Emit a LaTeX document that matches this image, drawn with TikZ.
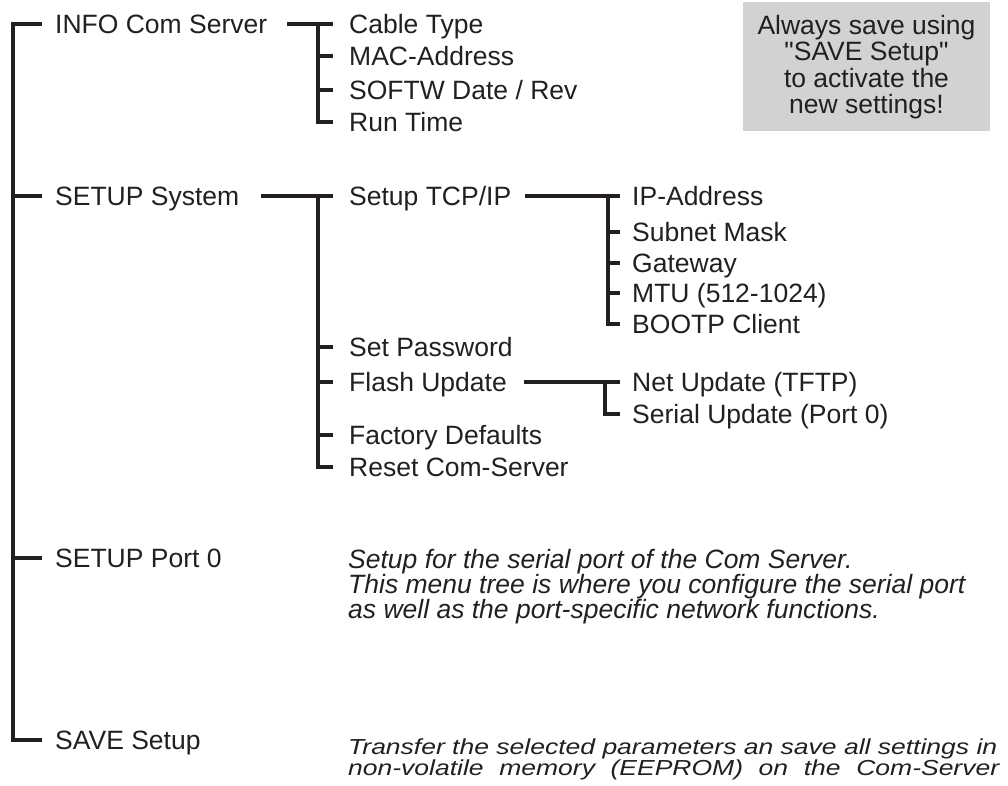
\documentclass[tikz,border=0pt]{standalone}
\usepackage{fontspec}
\setmainfont{Liberation Sans}[Ligatures=TeXOff]
\usepackage{graphicx}
\definecolor{ink}{HTML}{231F20}
\definecolor{notegray}{HTML}{D1D2D4}
\begin{document}
\begin{tikzpicture}[x=1pt,y=-1pt,
  lbl/.style={anchor=west, inner sep=0pt, text height=19pt, text depth=0pt, text=ink, font=\fontsize{26.5pt}{30pt}\selectfont},
  desc/.style={anchor=base west, inner sep=0pt, text=ink, font=\fontsize{26.5pt}{25pt}\selectfont\itshape},
  tree/.style={draw=ink, line width=3.2pt, line join=miter, line cap=butt}]
\useasboundingbox (0,0) rectangle (1008,785);

% level 0
\node[lbl] (info) at (55,24) {INFO Com Server};
\node[lbl] (sys) at (55,196) {SETUP System};
\node[lbl] (port) at (55,558) {SETUP Port 0};
\node[lbl] (save) at (55,740) {SAVE Setup};

% level 1
\node[lbl] (cable) at (349,24) {Cable Type};
\node[lbl] (mac) at (349,56) {MAC-Address};
\node[lbl] (softw) at (349,90) {SOFTW Date / Rev};
\node[lbl] (run) at (349,122) {Run Time};

\node[lbl] (tcp) at (349,196) {Setup TCP/IP};
\node[lbl] (pwd) at (349,347) {Set Password};
\node[lbl] (flash) at (349,382) {Flash Update};
\node[lbl] (factory) at (349,435) {Factory Defaults};
\node[lbl] (reset) at (349,467) {Reset Com-Server};

% level 2
\node[lbl] (ip) at (632,196) {IP-Address};
\node[lbl] (subnet) at (632,232) {Subnet Mask};
\node[lbl] (gw) at (632,263) {Gateway};
\node[lbl] (mtu) at (632,293) {MTU (512-1024)};
\node[lbl] (bootp) at (632,324) {BOOTP Client};

\node[lbl] (net) at (632,382) {Net Update (TFTP)};
\node[lbl] (serial) at (632,414) {Serial Update (Port 0)};

% main tree
\coordinate (v0) at (13,0);
\draw[tree] ([xshift=-13pt]info.west) -- (v0 |- info.west) -- (v0 |- save.west) -- ([xshift=-13pt]save.west);
\draw[tree] (v0 |- sys.west) -- ([xshift=-13pt]sys.west);
\draw[tree] (v0 |- port.west) -- ([xshift=-13pt]port.west);

% INFO subtree
\coordinate (v1) at (318,0);
\draw[tree] ([xshift=20pt]info.east) -- ([xshift=-16pt]cable.west);
\draw[tree] (v1 |- cable.west) -- (v1 |- run.west) -- ([xshift=-16pt]run.west);
\draw[tree] (v1 |- mac.west) -- ([xshift=-16pt]mac.west);
\draw[tree] (v1 |- softw.west) -- ([xshift=-16pt]softw.west);

% SETUP System subtree
\draw[tree] ([xshift=22pt]sys.east) -- ([xshift=-16pt]tcp.west);
\draw[tree] (v1 |- tcp.west) -- (v1 |- reset.west) -- ([xshift=-16pt]reset.west);
\draw[tree] (v1 |- pwd.west) -- ([xshift=-16pt]pwd.west);
\draw[tree] (v1 |- flash.west) -- ([xshift=-16pt]flash.west);
\draw[tree] (v1 |- factory.west) -- ([xshift=-16pt]factory.west);

% TCP/IP subtree
\coordinate (v2) at (608,0);
\draw[tree] ([xshift=14pt]tcp.east) -- ([xshift=-12pt]ip.west);
\draw[tree] (v2 |- ip.west) -- (v2 |- bootp.west) -- ([xshift=-12pt]bootp.west);
\draw[tree] (v2 |- subnet.west) -- ([xshift=-12pt]subnet.west);
\draw[tree] (v2 |- gw.west) -- ([xshift=-12pt]gw.west);
\draw[tree] (v2 |- mtu.west) -- ([xshift=-12pt]mtu.west);

% Flash subtree
\coordinate (v3) at (605,0);
\draw[tree] ([xshift=17pt]flash.east) -- ([xshift=-12pt]net.west);
\draw[tree] (v3 |- net.west) -- (v3 |- serial.west) -- ([xshift=-12pt]serial.west);

% descriptions
\node[desc] (portdesc) at (348,568) {\vtop{\baselineskip=25pt\lineskiplimit=-100pt
  \hbox{Setup for the serial port of the Com Server.}
  \hbox{This menu tree is where you configure the serial port}
  \hbox{as well as the port-specific network functions.}}};

\node[desc] (savedesc) at (348,754) {\vtop{\baselineskip=21pt\lineskiplimit=-100pt
  \hbox{\scalebox{1}[0.82]{Transfer the selected parameters an save all settings in}}
  \hbox{\scalebox{1}[0.82]{\makebox[651pt][s]{non-volatile memory (EEPROM) on the Com-Server}}}}};

% note box
\node[fill=notegray, minimum width=247pt, minimum height=129pt, inner sep=0pt] (note) at (866.5,66.5) {};
\node[anchor=base, inner sep=0pt, text=ink, font=\fontsize{26.5pt}{26.5pt}\selectfont] (notetext) at (866.5,34) {\vtop{\baselineskip=26.5pt\lineskiplimit=-100pt
  \hbox to 0pt{\hss Always save using\hss}
  \hbox to 0pt{\hss "SAVE Setup"\hss}
  \hbox to 0pt{\hss to activate the\hss}
  \hbox to 0pt{\hss new settings!\hss}}};
\end{tikzpicture}
\end{document}
